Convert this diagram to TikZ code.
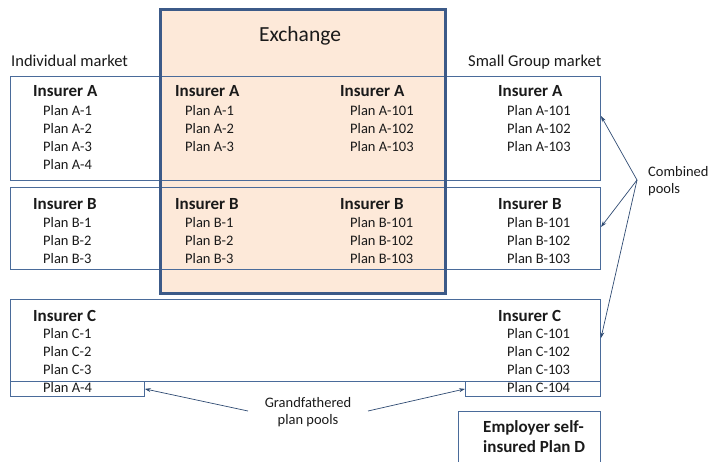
\documentclass[tikz,border=0pt]{standalone}
\usepackage{fontspec}
\setmainfont{Carlito}
\usetikzlibrary{arrows.meta}
\definecolor{boxline}{HTML}{4A6B9A}
\definecolor{exline}{HTML}{3C5A88}
\definecolor{exfill}{HTML}{FDE9D9}
\definecolor{arr}{HTML}{2E4A72}
\definecolor{txt}{HTML}{1A1A1A}
\begin{document}
\begin{tikzpicture}[x=1pt,y=-1pt,
  rowbox/.style={draw=boxline, line width=0.8pt, minimum width=590pt, inner sep=0pt, anchor=north west},
  smallbox/.style={draw=boxline, line width=0.8pt, inner sep=0pt, anchor=north west, minimum height=15pt},
  ins/.style={font=\fontsize{17}{20}\selectfont\bfseries, text=txt, anchor=base west, inner sep=0pt},
  plan/.style={font=\fontsize{14.5}{17}\selectfont, text=txt, anchor=base west, inner sep=0pt},
  lbl/.style={font=\fontsize{16.5}{20}\selectfont, text=txt, anchor=base west, inner sep=0pt},
  note/.style={font=\fontsize{14.5}{17}\selectfont, text=txt, inner sep=0pt, align=center},
  pointer/.style={draw=arr, line width=0.7pt, -{Stealth[length=6pt,width=4pt]}}
]
\useasboundingbox (0,0) rectangle (710,461);
% exchange fill
\fill[exfill] (159,8) rectangle (444,292);
% row boxes
\node[rowbox, minimum height=104pt] (rowA) at (10,76) {};
\node[rowbox, minimum height=82pt] (rowB) at (10,187) {};
\node[rowbox, minimum height=82pt] (rowC) at (10,299) {};
\node[smallbox, minimum width=134pt] (gfA) at (10,381) {};
\node[smallbox, minimum width=135pt] (gfC) at (465,381) {};
% exchange border
\node[draw=exline, line width=2.5pt, minimum width=285pt, minimum height=284pt, anchor=north west, inner sep=0pt] (exch) at (159,8) {};
\node[font=\fontsize{21.5}{24}\selectfont, text=txt, anchor=base, inner sep=0pt] (exTitle) at (300,41) {Exchange};
% market labels
\node[lbl] (indiv) at (11,66) {Individual market};
\node[lbl] (small) at (468,66) {Small Group market};
% Row A
\node[ins] (iA1) at (33,96) {Insurer A};
\node[plan] (pA1) at (43,115) {Plan A-1};
\node[plan] (pA2) at (43,133) {Plan A-2};
\node[plan] (pA3) at (43,151) {Plan A-3};
\node[plan] (pA4) at (43,169) {Plan A-4};
\node[ins] (iA2) at (175,96) {Insurer A};
\node[plan] (eA1) at (185,115) {Plan A-1};
\node[plan] (eA2) at (185,133) {Plan A-2};
\node[plan] (eA3) at (185,151) {Plan A-3};
\node[ins] (iA3) at (340,96) {Insurer A};
\node[plan] (eA101) at (350,115) {Plan A-101};
\node[plan] (eA102) at (350,133) {Plan A-102};
\node[plan] (eA103) at (350,151) {Plan A-103};
\node[ins] (iA4) at (498,96) {Insurer A};
\node[plan] (sA101) at (507,115) {Plan A-101};
\node[plan] (sA102) at (507,133) {Plan A-102};
\node[plan] (sA103) at (507,151) {Plan A-103};
% Row B
\node[ins] (iB1) at (33,209) {Insurer B};
\node[plan] (pB1) at (43,227) {Plan B-1};
\node[plan] (pB2) at (43,245) {Plan B-2};
\node[plan] (pB3) at (43,263) {Plan B-3};
\node[ins] (iB2) at (175,209) {Insurer B};
\node[plan] (eB1) at (185,227) {Plan B-1};
\node[plan] (eB2) at (185,245) {Plan B-2};
\node[plan] (eB3) at (185,263) {Plan B-3};
\node[ins] (iB3) at (340,209) {Insurer B};
\node[plan] (eB101) at (350,227) {Plan B-101};
\node[plan] (eB102) at (350,245) {Plan B-102};
\node[plan] (eB103) at (350,263) {Plan B-103};
\node[ins] (iB4) at (498,209) {Insurer B};
\node[plan] (sB101) at (507,227) {Plan B-101};
\node[plan] (sB102) at (507,245) {Plan B-102};
\node[plan] (sB103) at (507,263) {Plan B-103};
% Row C
\node[ins] (iC1) at (33,321) {Insurer C};
\node[plan] (pC1) at (43,338) {Plan C-1};
\node[plan] (pC2) at (43,356) {Plan C-2};
\node[plan] (pC3) at (43,374) {Plan C-3};
\node[plan] (pGA4) at (43,392) {Plan A-4};
\node[ins] (iC4) at (498,321) {Insurer C};
\node[plan] (sC101) at (507,338) {Plan C-101};
\node[plan] (sC102) at (507,356) {Plan C-102};
\node[plan] (sC103) at (507,374) {Plan C-103};
\node[plan] (sC104) at (507,392) {Plan C-104};
% employer box (cut at bottom)
\draw[draw=boxline, line width=0.8pt] (458,462) -- (458,411) -- (600,411) -- (600,462);
\node[ins] (emp1) at (483,432) {Employer self-};
\node[ins] (emp2) at (483,452) {insured Plan D};
% combined pools
\node[plan] (comb1) at (648,176) {Combined};
\node[plan] (comb2) at (648,193) {pools};
\coordinate (fan) at (637,180);
\coordinate (tA) at (601,116);
\coordinate (tB) at (601,227);
\coordinate (tC) at (601,338);
\draw[pointer] (fan) -- (tA);
\draw[pointer] (fan) -- (tB);
\draw[pointer] (fan) -- (tC);
% grandfathered
\node[note, anchor=base] (gf1) at (308,407) {Grandfathered};
\node[note, anchor=base] (gf2) at (308,424) {plan pools};
\coordinate (gL) at (248,411);
\coordinate (gR) at (368,411);
\draw[pointer] (gL) -- (gfA.east);
\draw[pointer] (gR) -- (gfC.west);
\end{tikzpicture}
\end{document}
